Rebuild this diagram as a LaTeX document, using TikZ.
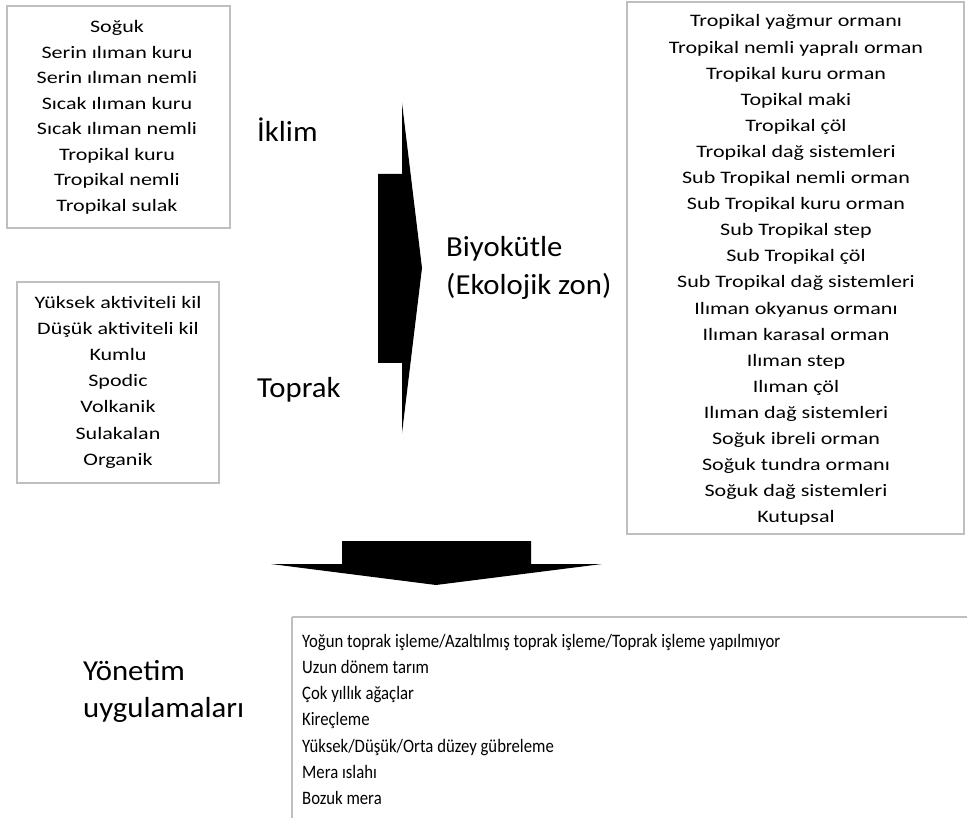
\documentclass[tikz,border=0pt]{standalone}
\usepackage{fontspec}
\setmainfont{Carlito}
\newfontfamily\listfont[FakeStretch=1.26]{Carlito}
\newfontfamily\mgmtfont[FakeStretch=0.88]{Carlito}
\newfontfamily\labelfont[FakeStretch=1.06]{Carlito}
\begin{document}
\begin{tikzpicture}[x=1pt,y=-1pt,
  listbox/.style={draw=black!25, line width=1.4pt},
  item/.style={font=\listfont\fontsize{17.5}{20}\selectfont, inner sep=0pt, anchor=base},
  itemL/.style={font=\mgmtfont\fontsize{19}{22}\selectfont, inner sep=0pt, anchor=base west},
  biglabel/.style={font=\labelfont\fontsize{29}{34}\selectfont, inner sep=0pt, anchor=base west},
  blockarrow/.style={fill=black, draw=none}]
\useasboundingbox (0,0) rectangle (967,818);
% boxes
\draw[listbox] (7,6) rectangle (230,228);
\draw[listbox] (17,282) rectangle (219,483);
\draw[listbox] (627,2) rectangle (964,534);
\draw[listbox] (292,617) -- (975,617) (292,617) -- (292,830);
% climate list
\foreach \t [count=\i] in {Soğuk,Serin ılıman kuru,Serin ılıman nemli,Sıcak ılıman kuru,Sıcak ılıman nemli,Tropikal kuru,Tropikal nemli,Tropikal sulak}
  \node[item] (c\i) at (117,{33+(\i-1)*25.5}) {\t};
% soil list
\foreach \t [count=\i] in {Yüksek aktiviteli kil,Düşük aktiviteli kil,Kumlu,Spodic,Volkanik,Sulakalan,Organik}
  \node[item] (s\i) at (118,{309+(\i-1)*26}) {\t};
% ecological zones
\foreach \t [count=\i] in {Tropikal yağmur ormanı,Tropikal nemli yapralı orman,Tropikal kuru orman,Topikal maki,Tropikal çöl,Tropikal dağ sistemleri,Sub Tropikal nemli orman,Sub Tropikal kuru orman,Sub Tropikal step,Sub Tropikal çöl,Sub Tropikal dağ sistemleri,Ilıman okyanus ormanı,Ilıman karasal orman,Ilıman step,Ilıman çöl,Ilıman dağ sistemleri,Soğuk ibreli orman,Soğuk tundra ormanı,Soğuk dağ sistemleri,Kutupsal}
  \node[item] (e\i) at (796,{27+(\i-1)*26.1}) {\t};
% management list
\foreach \t [count=\i] in {Yoğun toprak işleme/Azaltılmış toprak işleme/Toprak işleme yapılmıyor,Uzun dönem tarım,Çok yıllık ağaçlar,Kireçleme,Yüksek/Düşük/Orta düzey gübreleme,Mera ıslahı,Bozuk mera}
  \node[itemL] (m\i) at (302,{647+(\i-1)*26.3}) {\t};
% labels
\node[biglabel] (iklim) at (257,142) {İklim};
\node[biglabel] (toprak) at (257,397) {Toprak};
\node[biglabel] (bio1) at (446,257) {Biyokütle};
\node[biglabel] (bio2) at (446,295) {(Ekolojik zon)};
\node[biglabel] (yon1) at (83,680) {Yönetim};
\node[biglabel] (yon2) at (83,717) {uygulamaları};
% block arrows
\fill[blockarrow] (378,174) -- (402,174) -- (402,103) -- (422,268) -- (402,433) -- (402,363) -- (378,363) -- cycle;
\fill[blockarrow] (342,541) -- (531,541) -- (531,564) -- (602,564) -- (436,585) -- (271,564) -- (342,564) -- cycle;
\end{tikzpicture}
\end{document}
